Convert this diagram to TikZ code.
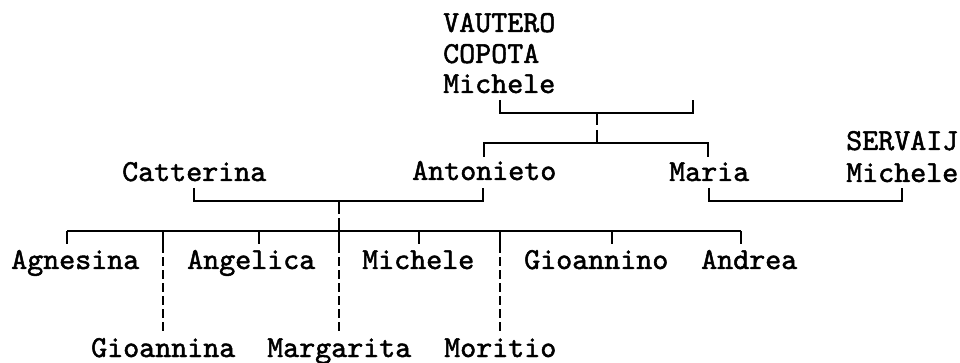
\documentclass[tikz,border=0pt]{standalone}
\usepackage{fontspec}
\newfontfamily\treefont{lmmono10-regular.otf}[FakeBold=1.6]
\begin{document}
\begin{tikzpicture}[x=1pt,y=-1pt,
  person/.style={font=\treefont\fontsize{30.5}{31}\selectfont, inner sep=0pt, anchor=base west},
  link/.style={line width=1.7pt, line cap=butt},
  dashlink/.style={line width=1.7pt, dash pattern=on 9pt off 4pt, dash phase=13pt}]
\path[use as bounding box] (0,0) rectangle (960,363);
% persons
\node[person] (v1) at (443,32) {VAUTERO};
\node[person] (v2) at (443,63) {COPOTA};
\node[person] (v3) at (443,93) {Michele};
\node[person] (serv) at (846,150) {SERVAIJ};
\node[person] (mich2) at (846,182) {Michele};
\node[person] (cat) at (122,181) {Catterina};
\node[person] (ant) at (412,180) {Antonieto};
\node[person] (mar) at (669,181) {Maria};
\node[person] (agn) at (11,269) {Agnesina};
\node[person] (ang) at (187,269) {Angelica};
\node[person] (mic) at (362,269) {Michele};
\node[person] (gio) at (524,269) {Gioannino};
\node[person] (andr) at (701,269) {Andrea};
\node[person] (gna) at (91,357) {Gioannina};
\node[person] (mgr) at (267,357) {Margarita};
\node[person] (mor) at (444,357) {Moritio};
% connector points
\coordinate (topL) at (500,100);
\coordinate (topR) at (693,100);
\coordinate (topM) at (597,113);
\coordinate (sibL) at (484,157);
\coordinate (sibR) at (708,157);
\coordinate (catT) at (194,188);
\coordinate (antT) at (483,188);
\coordinate (marT) at (709,188);
\coordinate (servT) at (902,188);
\coordinate (famM) at (339,201);
% top couple
\draw[link] (topL) -- (500,113) -- (693,113) -- (topR);
\draw[link] (topM) -- (597,125);
\draw[link] (597,130) -- (597,143);
% their children
\draw[link] (sibL) -- (484,143) -- (708,143) -- (sibR);
% Maria and Servaij Michele
\draw[link] (marT) -- (709,201) -- (902,201) -- (servT);
% Catterina and Antonieto
\draw[link] (catT) -- (194,201) -- (483,201) -- (antT);
\draw[link] (famM) -- (339,214);
\draw[link] (339,218) -- (339,244);
% children bar
\draw[link] (67,231) -- (741,231);
\foreach \x in {67,259,419,612,741} \draw[link] (\x,231) -- (\x,244);
\foreach \x in {163,500} \draw[link] (\x,231) -- (\x,244);
\foreach \x in {163,339,500} \draw[dashlink] (\x,231) -- (\x,331);
\end{tikzpicture}
\end{document}
